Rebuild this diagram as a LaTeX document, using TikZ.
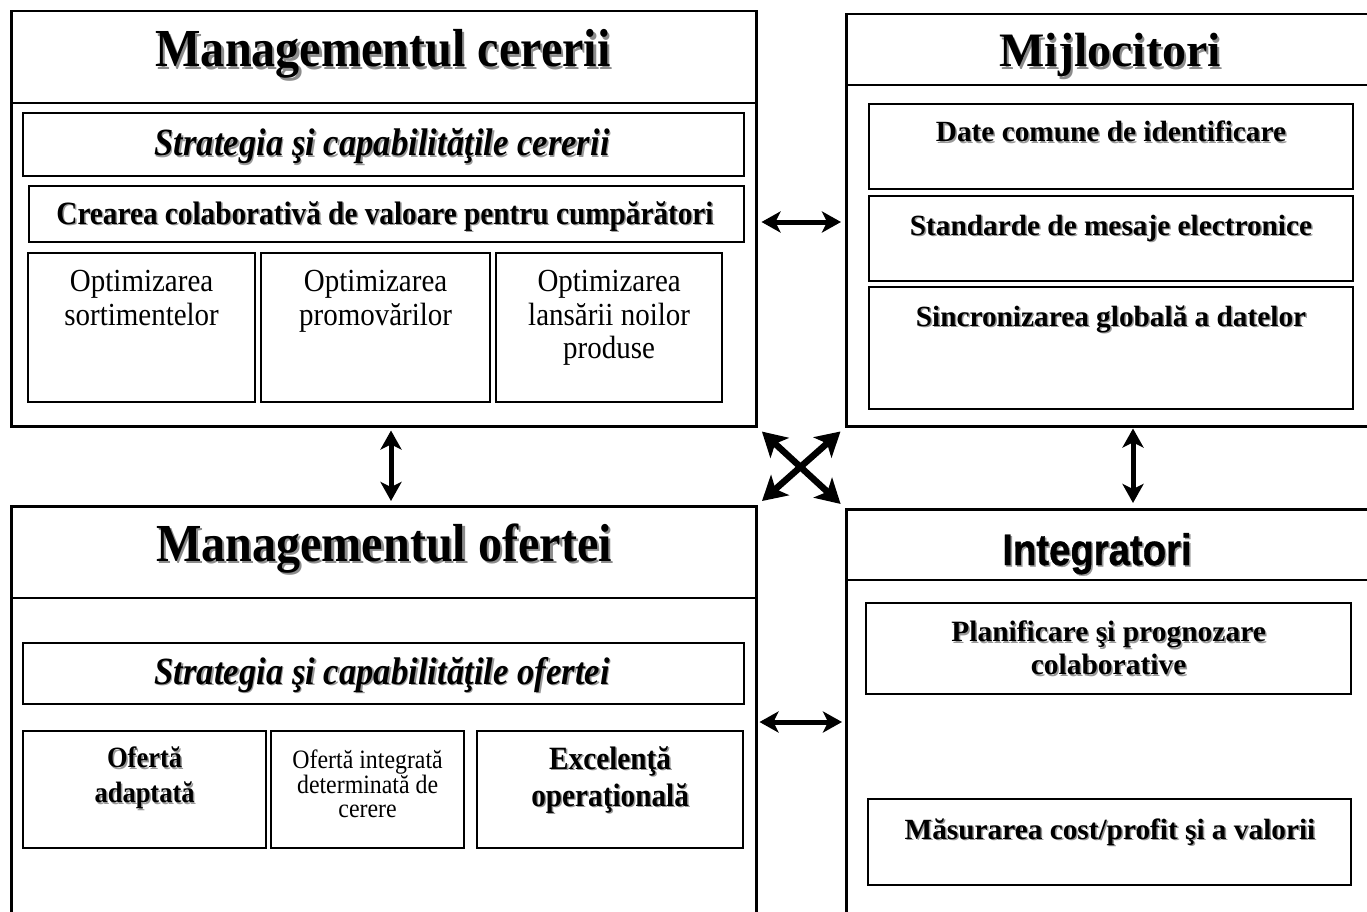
\documentclass[tikz,border=0pt]{standalone}
\usepackage{fontspec}
\setmainfont{Liberation Serif}
% narrow serif for the two left-hand panels
\newfontfamily\lserif[FakeStretch=0.9]{Liberation Serif}
\newfontfamily\headsans[FakeStretch=0.87,FakeBold=0.8]{Liberation Sans}
\usetikzlibrary{arrows.meta}

% text with a soft grey drop shadow
\newcommand{\shd}[1]{\leavevmode\rlap{\kern1.5pt\raisebox{-1.5pt}{\textcolor{black!40}{#1}}}#1}
\newcommand{\shdbig}[1]{\leavevmode\rlap{\kern2.2pt\raisebox{-2.2pt}{\textcolor{black!45}{#1}}}#1}

\tikzset{
  frame/.style={draw, line width=2.5pt, inner sep=0pt, anchor=north west},
  innerbox/.style={draw, line width=2.2pt, inner sep=0pt, anchor=north west},
  ltitle/.style={font=\lserif\fontsize{53.5}{56}\selectfont\bfseries, inner sep=0pt, anchor=base},
  lbl/.style={inner sep=0pt, align=center},
  bline/.style={inner sep=0pt, anchor=base, font=\fontsize{29.3}{33}\selectfont\bfseries},
  dbl/.style={line width=5pt, {Stealth[length=19pt,width=21pt,inset=5pt]}-{Stealth[length=19pt,width=21pt,inset=5pt]}},
  xdbl/.style={line width=6.5pt, {Stealth[length=24pt,width=27pt,inset=6pt]}-{Stealth[length=24pt,width=27pt,inset=6pt]}},
}

\begin{document}
\begin{tikzpicture}[x=1pt,y=-1pt]
\clip (0,0) rectangle (1367,912);
\fill[white] (0,0) rectangle (1367,912);

% ---------------- Managementul cererii ----------------
\node[frame, minimum width=745pt, minimum height=415pt] (A) at (10,10) {};
\draw[line width=2.5pt] ([yshift=-93pt]A.north west) -- ([yshift=-93pt]A.north east);
\node[ltitle] (Atitle) at (383,67) {\shdbig{Managementul cererii}};
\node[innerbox, minimum width=721pt, minimum height=63pt] (A1) at (22,112) {};
\node[inner sep=0pt, anchor=base, font=\lserif\fontsize{38.5}{42}\selectfont\bfseries\itshape] (A1t) at (382,156) {\shd{Strategia şi capabilităţile cererii}};
\node[innerbox, minimum width=715pt, minimum height=56pt] (A2) at (28,185) {};
\node[inner sep=0pt, anchor=base, font=\lserif\fontsize{32.5}{36}\selectfont\bfseries] (A2t) at (385,224) {\shd{Crearea colaborativă de valoare pentru cumpărători}};
\node[innerbox, minimum width=227pt, minimum height=149pt] (A3) at (27,252) {};
\node[innerbox, minimum width=229pt, minimum height=149pt] (A4) at (260,252) {};
\node[innerbox, minimum width=226pt, minimum height=149pt] (A5) at (495,252) {};
\node[lbl, anchor=north, font=\lserif\fontsize{32.2}{34}\selectfont] (A3t) at ([yshift=-18pt]A3.north) {Optimizarea\\sortimentelor};
\node[lbl, anchor=north, font=\lserif\fontsize{32.2}{34}\selectfont] (A4t) at ([yshift=-18pt]A4.north) {Optimizarea\\promovărilor};
\node[lbl, anchor=north, font=\lserif\fontsize{32.2}{33.5}\selectfont] (A5t) at ([yshift=-18pt]A5.north) {Optimizarea\\lansării noilor\\produse};

% ---------------- Mijlocitori ----------------
\node[frame, minimum width=540pt, minimum height=412pt] (B) at (845,13) {};
\draw[line width=2.5pt] ([yshift=-72pt]B.north west) -- ([yshift=-72pt]B.north east);
\node[inner sep=0pt, anchor=base, font=\fontsize{48}{52}\selectfont\bfseries] (Btitle) at (1110,67) {\shdbig{Mijlocitori}};
\node[innerbox, minimum width=484pt, minimum height=85pt] (B1) at (868,103) {};
\node[innerbox, minimum width=484pt, minimum height=85pt] (B2) at (868,195) {};
\node[innerbox, minimum width=484pt, minimum height=122pt] (B3) at (868,286) {};
\node[bline] (B1t) at (1111,142) {\shd{Date comune de identificare}};
\node[bline] (B2t) at (1111,235) {\shd{Standarde de mesaje electronice}};
\node[bline] (B3t) at (1111,326) {\shd{Sincronizarea globală a datelor}};

% ---------------- Managementul ofertei ----------------
\node[frame, minimum width=745pt, minimum height=430pt] (C) at (10,505) {};
\draw[line width=2.5pt] ([yshift=-93pt]C.north west) -- ([yshift=-93pt]C.north east);
\node[ltitle] (Ctitle) at (384,561) {\shdbig{Managementul ofertei}};
\node[innerbox, minimum width=721pt, minimum height=61pt] (C1) at (22,642) {};
\node[inner sep=0pt, anchor=base, font=\lserif\fontsize{38.5}{42}\selectfont\bfseries\itshape] (C1t) at (382,684) {\shd{Strategia şi capabilităţile ofertei}};
\node[innerbox, minimum width=243pt, minimum height=117pt] (C2) at (22,730) {};
\node[innerbox, minimum width=193pt, minimum height=117pt] (C3) at (270,730) {};
\node[innerbox, minimum width=266pt, minimum height=117pt] (C4) at (476,730) {};
\node[lbl, anchor=north, font=\lserif\fontsize{29.4}{35}\selectfont\bfseries] (C2t) at ([yshift=-17pt]C2.north) {\shd{Ofertă}\\\shd{adaptată}};
\node[lbl, anchor=north, font=\lserif\fontsize{26.5}{24.5}\selectfont] (C3t) at ([yshift=-20pt]C3.north) {Ofertă integrată\\determinată de\\cerere};
\node[lbl, anchor=north, font=\lserif\fontsize{32.5}{37}\selectfont\bfseries] (C4t) at ([yshift=-16pt]C4.north) {\shd{Excelenţă}\\\shd{operaţională}};

% ---------------- Integratori ----------------
\node[frame, minimum width=540pt, minimum height=430pt] (D) at (845,508) {};
\draw[line width=2.5pt] ([yshift=-72pt]D.north west) -- ([yshift=-72pt]D.north east);
\node[inner sep=0pt, anchor=base, font=\headsans\fontsize{44}{46}\selectfont\bfseries] (Dtitle) at (1097,565) {\shd{Integratori}};
\node[innerbox, minimum width=485pt, minimum height=91pt] (D1) at (865,602) {};
\node[lbl, anchor=north, font=\fontsize{29.5}{33}\selectfont\bfseries] (D1t) at ([yshift=-19pt]D1.north) {\shd{Planificare şi prognozare}\\\shd{colaborative}};
\node[innerbox, minimum width=483pt, minimum height=86pt] (D2) at (867,798) {};
\node[bline] (D2t) at (1110,839) {\shd{Măsurarea cost/profit şi a valorii}};

% ---------------- connectors ----------------
\coordinate (topy) at (0,222);
\coordinate (boty) at (0,722);
\coordinate (lx) at (391,0);
\coordinate (rx) at (1133,0);
\draw[dbl, shorten <=4pt, shorten >=4pt] (A.east |- topy) -- (B.west |- topy);
\draw[dbl, shorten <=2pt, shorten >=3pt] (C.east |- boty) -- (D.west |- boty);
\draw[dbl, shorten <=3pt, shorten >=4pt] (A.south -| lx) -- (C.north -| lx);
\draw[dbl, shorten <=1pt, shorten >=5pt] (B.south -| rx) -- (D.north -| rx);
\draw[xdbl, shorten <=6pt, shorten >=6pt] (A.south east) -- (D.north west);
\draw[xdbl, shorten <=6pt, shorten >=6pt] (B.south west) -- (C.north east);
\end{tikzpicture}
\end{document}
